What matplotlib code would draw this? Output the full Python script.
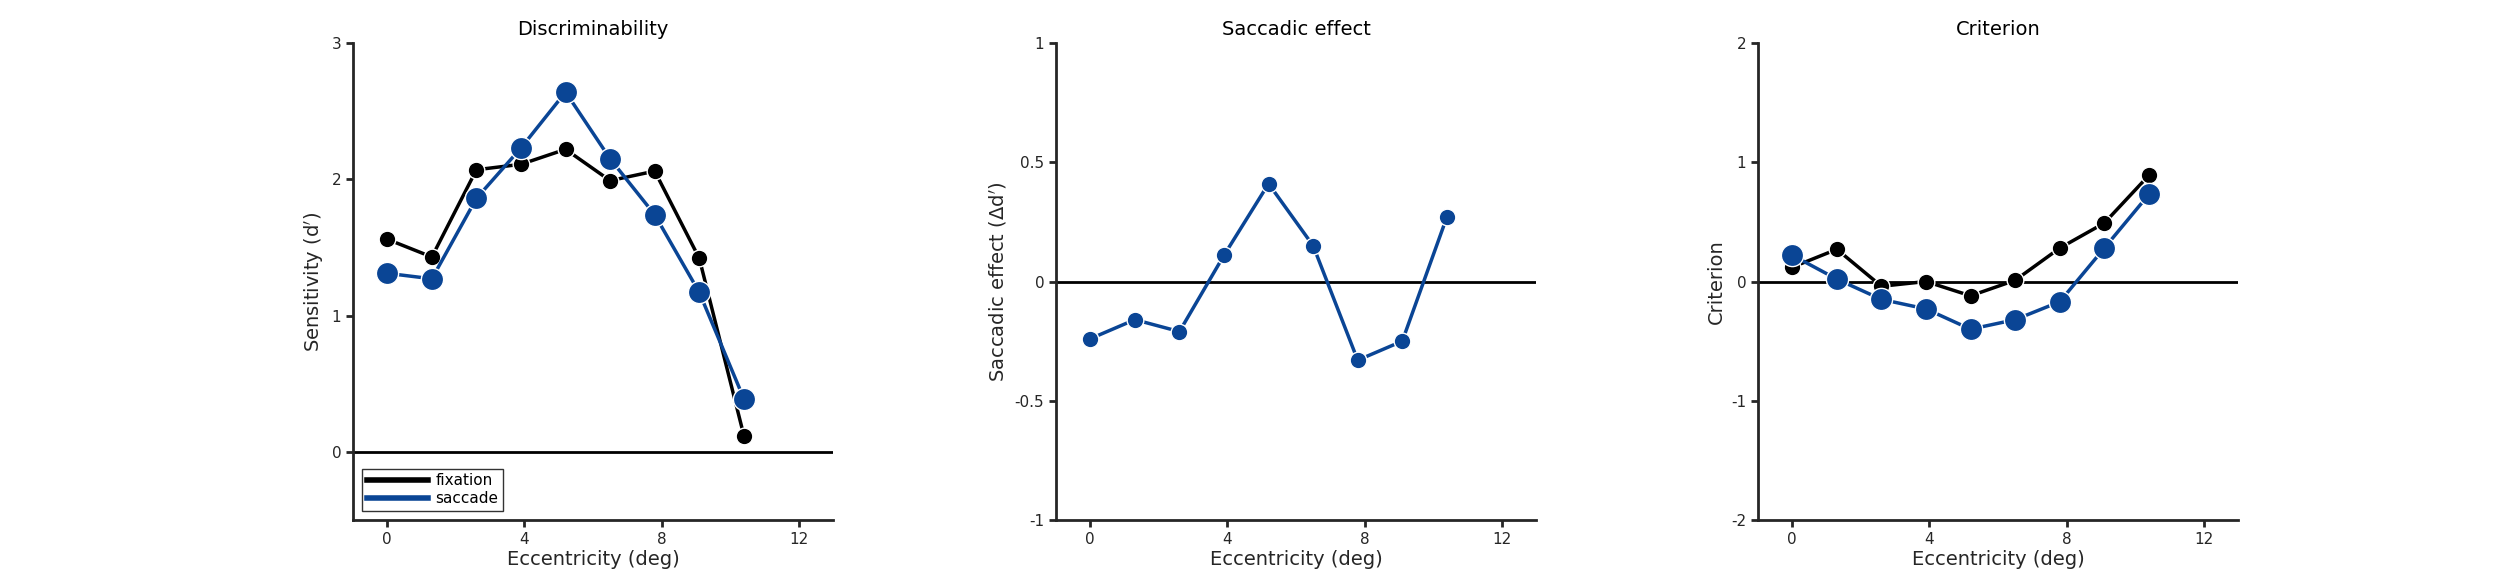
import matplotlib
matplotlib.use("Agg")
import matplotlib.pyplot as plt

ecc = [0, 1.3, 2.6, 3.9, 5.2, 6.5, 7.8, 9.1, 10.4]
dprime_fix = [1.56, 1.43, 2.07, 2.11, 2.22, 1.99, 2.06, 1.42, 0.12]
dprime_sac = [1.31, 1.27, 1.86, 2.23, 2.64, 2.15, 1.74, 1.17, 0.39]
sac_effect = [-0.24, -0.16, -0.21, 0.11, 0.41, 0.15, -0.33, -0.25, 0.27]
crit_fix = [0.12, 0.27, -0.04, 0.0, -0.12, 0.01, 0.28, 0.49, 0.89]
crit_sac = [0.22, 0.02, -0.15, -0.23, -0.40, -0.32, -0.17, 0.28, 0.73]

BLUE = "#0a4595"
TXT = "#262626"
fig = plt.figure(figsize=(24.95, 5.83), dpi=100)
W, H = 2495, 583
lefts = [353, 1056, 1758]
axes = [fig.add_axes([l / W, 1 - 520 / H, 480 / W, 477 / H]) for l in lefts]

def style(ax, ylim, yticks, ylabels, title, ylabel):
    ax.set_xlim(-1, 13)
    ax.set_ylim(*ylim)
    ax.set_xticks([0, 4, 8, 12])
    ax.set_yticks(yticks)
    ax.set_yticklabels(ylabels)
    for s in ["top", "right"]:
        ax.spines[s].set_visible(False)
    for s in ["left", "bottom"]:
        ax.spines[s].set_linewidth(2)
        ax.spines[s].set_color(TXT)
    ax.tick_params(labelsize=11, colors=TXT, width=2, length=5)
    ax.set_title(title, fontsize=14, color="black")
    ax.set_xlabel("Eccentricity (deg)", fontsize=14, color=TXT, labelpad=2)
    ax.set_ylabel(ylabel, fontsize=14, color=TXT)
    ax.axhline(0, color="black", lw=2, zorder=1)

ax = axes[0]
style(ax, (-0.5, 3), [0, 1, 2, 3], ["0", "1", "2", "3"], "Discriminability", "Sensitivity (d$'$)")
ax.plot(ecc, dprime_fix, "-o", color="black", lw=2.5, ms=12, mec="white", mew=1, label="fixation", zorder=3)
ax.plot(ecc, dprime_sac, "-o", color=BLUE, lw=2.5, ms=16, mec="white", mew=1, label="saccade", zorder=4)
leg = ax.legend(loc="lower left", fontsize=11, frameon=True, fancybox=False, edgecolor="black",
                markerscale=0, handlelength=4, borderaxespad=0.6, handletextpad=0.5, borderpad=0.3, labelspacing=0.2)
for h in leg.get_lines():
    h.set_marker("")
    h.set_linewidth(4)
leg.get_frame().set_linewidth(1)

ax = axes[1]
style(ax, (-1, 1), [-1, -0.5, 0, 0.5, 1], ["-1", "-0.5", "0", "0.5", "1"], "Saccadic effect", "Saccadic effect ($\\Delta$d$'$)")
ax.plot(ecc, sac_effect, "-o", color=BLUE, lw=2.5, ms=12, mec="white", mew=1, zorder=3)

ax = axes[2]
style(ax, (-2, 2), [-2, -1, 0, 1, 2], ["-2", "-1", "0", "1", "2"], "Criterion", "Criterion")
ax.plot(ecc, crit_fix, "-o", color="black", lw=2.5, ms=12, mec="white", mew=1, zorder=3)
ax.plot(ecc, crit_sac, "-o", color=BLUE, lw=2.5, ms=16, mec="white", mew=1, zorder=4)

fig.savefig("out.png", dpi=100)
